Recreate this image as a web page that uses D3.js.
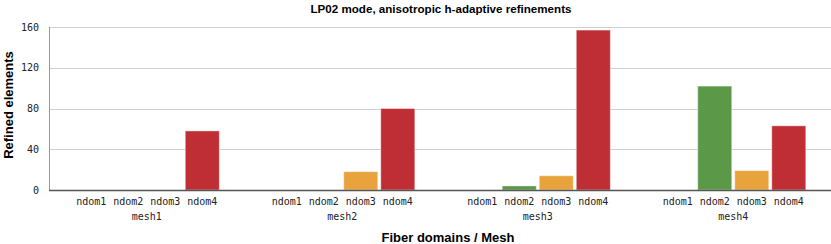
<!DOCTYPE html>
<html>
<head>
<meta charset="utf-8">
<script src="https://cdn.jsdelivr.net/npm/d3@7"></script>
<style>
	body { margin: 0; padding: 0; background: #fff; }
	svg { display: block; }
</style>
</head>
<body>
<div id="chart"></div>
<script>
var meshes = ['mesh1', 'mesh2', 'mesh3', 'mesh4'];
var domains = ['ndom1', 'ndom2', 'ndom3', 'ndom4'];
// refined elements per mesh, one row per mesh, one column per domain count
var refined = [
	[0, 0, 0, 58],
	[0, 0, 18, 80],
	[0, 4, 14, 157],
	[0, 102, 19, 63]
];
var yTicks = [0, 40, 80, 120, 160];
var colors = ['#4f7fbf', '#5b9848', '#e8a33d', '#bf2e34'];

(function () {
	'use strict';

	var width = 831,
			height = 244,
			margin = { top: 27, right: 0, bottom: 54, left: 49 };

	var svg = d3.select('#chart').append('svg')
							.attr('width', width)
							.attr('height', height);

	var x0 = d3.scaleBand()
						 .domain(meshes)
						 .range([margin.left, width - margin.right]);

	var x1 = d3.scaleBand()
						 .domain(domains)
						 .range([0, x0.bandwidth()])
						 .paddingInner(0.08)
						 .paddingOuter(0.68);

	var y = d3.scaleLinear()
						.domain([0, 160])
						.range([height - margin.bottom, margin.top]);

	var mono = '"DejaVu Sans Mono", monospace',
			sans = '"Liberation Sans", Arial, sans-serif';

	// grid lines
	svg.append('g').selectAll('line')
		 .data(yTicks.filter(function (d) { return d > 0; }))
		 .enter().append('line')
		 .attr('x1', margin.left)
		 .attr('x2', width - margin.right)
		 .attr('y1', function (d) { return Math.round(y(d)) + 0.5; })
		 .attr('y2', function (d) { return Math.round(y(d)) + 0.5; })
		 .style('stroke', '#d0d0d0')
		 .style('stroke-width', 1);

	// y tick labels
	svg.append('g').selectAll('text')
		 .data(yTicks)
		 .enter().append('text')
		 .attr('x', 39)
		 .attr('y', function (d) { return y(d); })
		 .attr('dy', '0.35em')
		 .attr('text-anchor', 'end')
		 .style('font-family', mono)
		 .style('font-size', '10px')
		 .style('fill', '#222')
		 .text(function (d) { return d; });

	// bars
	var groups = svg.append('g').selectAll('g')
									.data(refined)
									.enter().append('g')
									.attr('transform', function (d, i) {
										return 'translate(' + x0(meshes[i]) + ',0)';
									});

	groups.selectAll('rect')
				.data(function (row) {
					return row.map(function (v, j) { return { dom: domains[j], value: v, idx: j }; })
										.filter(function (d) { return d.value > 0; });
				})
				.enter().append('rect')
				.attr('x', function (d) { return x1(d.dom); })
				.attr('y', function (d) { return y(d.value); })
				.attr('width', x1.bandwidth())
				.attr('height', function (d) { return y(0) - y(d.value); })
				.style('fill', function (d) { return colors[d.idx]; })
				.style('stroke', 'rgba(255,255,255,0.45)')
				.style('stroke-width', 1);

	// axis lines
	svg.append('line')
		 .attr('x1', margin.left + 0.5).attr('x2', margin.left + 0.5)
		 .attr('y1', margin.top).attr('y2', y(0))
		 .style('stroke', '#999');

	svg.append('line')
		 .attr('x1', margin.left).attr('x2', width - margin.right)
		 .attr('y1', Math.round(y(0)) + 0.5).attr('y2', Math.round(y(0)) + 0.5)
		 .style('stroke', '#555')
		 .style('stroke-width', 1.5);

	// domain and mesh labels
	groups.selectAll('text.dom')
				.data(domains)
				.enter().append('text')
				.attr('class', 'dom')
				.attr('x', function (d) { return x1(d) + x1.bandwidth() / 2; })
				.attr('y', 205)
				.attr('text-anchor', 'middle')
				.style('font-family', mono)
				.style('font-size', '10px')
				.style('fill', '#222')
				.text(function (d) { return d; });

	groups.append('text')
				.attr('x', function () {
					return (x1(domains[0]) + x1(domains[3]) + x1.bandwidth()) / 2;
				})
				.attr('y', 220)
				.attr('text-anchor', 'middle')
				.style('font-family', mono)
				.style('font-size', '10px')
				.style('fill', '#222')
				.text(function (d, i) { return meshes[i]; });

	// titles
	svg.append('text')
		 .attr('x', 441)
		 .attr('y', 13)
		 .attr('text-anchor', 'middle')
		 .style('font-family', sans)
		 .style('font-size', '11.6px')
		 .style('font-weight', 'bold')
		 .text('LP02 mode, anisotropic h-adaptive refinements');

	svg.append('text')
		 .attr('x', 448)
		 .attr('y', 242)
		 .attr('text-anchor', 'middle')
		 .style('font-family', sans)
		 .style('font-size', '13px')
		 .style('font-weight', 'bold')
		 .text('Fiber domains / Mesh');

	svg.append('text')
		 .attr('transform', 'translate(13,' + 105 + ') rotate(-90)')
		 .attr('text-anchor', 'middle')
		 .style('font-family', sans)
		 .style('font-size', '13px')
		 .style('font-weight', 'bold')
		 .text('Refined elements');
}());
</script>
</body>
</html>
